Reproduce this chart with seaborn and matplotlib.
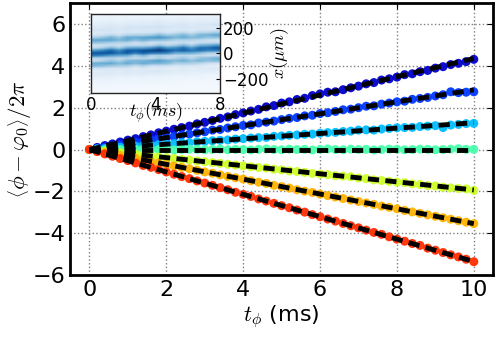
import matplotlib
matplotlib.use("Agg")
import matplotlib.pyplot as plt
import seaborn as sns
import pandas as pd
import numpy as np

# time axis (ms)
t_ms = [0.0, 0.2, 0.4, 0.6, 0.8, 1.0, 1.2, 1.4, 1.6, 1.8, 2.0, 2.2, 2.4, 2.6, 2.8,
        3.0, 3.2, 3.4, 3.6, 3.8, 4.0, 4.2, 4.4, 4.6, 4.8, 5.0, 5.2, 5.4, 5.6, 5.8,
        6.0, 6.2, 6.4, 6.6, 6.8, 7.0, 7.2, 7.4, 7.6, 7.8, 8.0, 8.2, 8.4, 8.6, 8.8,
        9.0, 9.2, 9.4, 9.6, 9.8, 10.0]

phase_navy = [0.00, 0.10, 0.19, 0.27, 0.36, 0.45, 0.52, 0.62, 0.70, 0.80, 0.88, 0.97, 1.05, 1.12, 1.23,
              1.30, 1.39, 1.49, 1.56, 1.67, 1.75, 1.84, 1.92, 2.04, 2.10, 2.22, 2.28, 2.39, 2.45, 2.58,
              2.66, 2.74, 2.76, 2.86, 2.95, 3.03, 3.14, 3.20, 3.32, 3.38, 3.46, 3.58, 3.62, 3.72, 3.78,
              3.89, 3.96, 4.06, 4.12, 4.20, 4.31]
phase_blue = [0.00, 0.06, 0.11, 0.18, 0.22, 0.29, 0.35, 0.40, 0.46, 0.51, 0.57, 0.62, 0.70, 0.74, 0.80,
              0.85, 0.93, 0.96, 1.03, 1.09, 1.15, 1.18, 1.27, 1.31, 1.36, 1.43, 1.49, 1.53, 1.61, 1.64,
              1.72, 1.76, 1.82, 1.90, 1.93, 2.00, 2.07, 2.09, 2.17, 2.22, 2.28, 2.31, 2.40, 2.44, 2.49,
              2.56, 2.62, 2.76, 2.72, 2.74, 2.76]
phase_lblue = [0.00, 0.03, 0.05, 0.08, 0.11, 0.13, 0.16, 0.19, 0.20, 0.24, 0.26, 0.28, 0.32, 0.33, 0.37,
               0.39, 0.42, 0.44, 0.46, 0.50, 0.52, 0.55, 0.57, 0.58, 0.63, 0.65, 0.68, 0.70, 0.73, 0.74,
               0.78, 0.81, 0.82, 0.86, 0.88, 0.93, 0.94, 0.93, 0.98, 1.01, 1.04, 1.05, 1.06, 1.10, 1.12,
               1.14, 1.05, 1.17, 1.20, 1.24, 1.25]
phase_aqua = [0.00, 0.01, -0.01, 0.02, 0.00, -0.02, 0.01, 0.02, -0.01, 0.00, 0.01, -0.02, 0.00, 0.02, 0.01,
              -0.01, 0.00, 0.02, -0.01, 0.01, 0.00, -0.02, 0.01, 0.03, 0.00, -0.01, 0.02, 0.00, 0.01, -0.02,
              0.01, 0.03, 0.00, -0.01, 0.02, 0.00, 0.01, -0.02, 0.00, 0.02, 0.01, -0.01, 0.00, 0.02, 0.01,
              -0.01, 0.00, 0.02, 0.04, 0.01, 0.01]
phase_yg = [0.00, -0.04, -0.08, -0.12, -0.15, -0.20, -0.23, -0.27, -0.31, -0.36, -0.39, -0.43, -0.47, -0.50, -0.55,
            -0.58, -0.62, -0.66, -0.70, -0.74, -0.78, -0.82, -0.86, -0.88, -0.94, -0.97, -1.02, -1.05, -1.09, -1.14,
            -1.17, -1.20, -1.25, -1.27, -1.30, -1.36, -1.39, -1.45, -1.48, -1.52, -1.56, -1.58, -1.64, -1.67, -1.72,
            -1.74, -1.80, -1.83, -1.86, -1.88, -1.95]
phase_orange = [0.00, -0.07, -0.14, -0.21, -0.28, -0.36, -0.42, -0.50, -0.57, -0.64, -0.71, -0.78, -0.85, -0.92, -0.99,
                -1.07, -1.13, -1.21, -1.28, -1.35, -1.41, -1.49, -1.56, -1.62, -1.71, -1.77, -1.84, -1.92, -1.99, -2.05,
                -2.13, -2.20, -2.27, -2.34, -2.41, -2.48, -2.55, -2.62, -2.70, -2.76, -2.83, -2.91, -2.98, -3.05, -3.12,
                -3.19, -3.26, -3.33, -3.40, -3.47, -3.54]
phase_red = [0.00, -0.10, -0.21, -0.32, -0.43, -0.53, -0.64, -0.76, -0.85, -0.96, -1.07, -1.18, -1.29, -1.39, -1.50,
             -1.60, -1.71, -1.82, -1.92, -2.04, -2.14, -2.24, -2.36, -2.46, -2.57, -2.68, -2.78, -2.89, -2.99, -3.11,
             -3.21, -3.32, -3.42, -3.53, -3.64, -3.74, -3.85, -3.96, -4.05, -4.17, -4.28, -4.38, -4.49, -4.58, -4.71,
             -4.81, -4.92, -5.03, -5.13, -5.24, -5.36]

series_names = ["navy", "blue", "lblue", "aqua", "yg", "orange", "red"]
series_data = [phase_navy, phase_blue, phase_lblue, phase_aqua, phase_yg, phase_orange, phase_red]
jet_levels = [0.07, 0.18, 0.31, 0.44, 0.6, 0.72, 0.86]
fit_slopes = [0.435, 0.285, 0.128, 0.0, -0.193, -0.354, -0.535]  # per ms
fit_t = [0.0, 10.0]

# inset: fringe profile (x in um, top to bottom) and drift per time column
inset_x = [300, 280, 260, 240, 220, 200, 180, 160, 140, 120, 100, 80, 60, 40, 20, 0,
           -20, -40, -60, -80, -100, -120, -140, -160, -180, -200, -220, -240, -260, -280, -300]
inset_profile = [0.04, 0.07, 0.06, 0.09, 0.12, 0.14, 0.2, 0.15, 0.18, 0.38, 0.6, 0.45, 0.2, 0.3, 0.65, 0.95,
                 0.78, 0.32, 0.27, 0.55, 0.5, 0.22, 0.12, 0.15, 0.12, 0.08, 0.06, 0.05, 0.04, 0.03, 0.02]
inset_shift = [0, 4, 9, 7, 12, 17, 14, 20, 24, 21, 27, 30, 26, 33, 37, 40]
inset_gain = [0.9, 0.95, 1.0, 0.85, 1.0, 0.9, 1.0, 0.95, 1.05, 0.9, 0.85, 0.95, 0.8, 0.9, 0.85, 0.9]

rows = []
for name, vals in zip(series_names, series_data):
    for tt, v in zip(t_ms, vals):
        rows.append({"t": tt, "phase": v, "series": name})
df = pd.DataFrame(rows)

cmap = plt.get_cmap("jet")
palette = {n: cmap(l) for n, l in zip(series_names, jet_levels)}

sns.set_style("white")
plt.rcParams["font.family"] = ["DejaVu Sans"]
plt.rcParams["mathtext.fontset"] = "cm"
for key in ["text.color", "axes.labelcolor", "xtick.color", "ytick.color"]:
    plt.rcParams[key] = "black"

fig = plt.figure(figsize=(4.98, 3.38), dpi=100)
ax = fig.add_axes([0.141, 0.186, 0.849, 0.805])

sns.scatterplot(data=df, x="t", y="phase", hue="series", palette=palette,
                s=42, linewidth=0, alpha=0.95, legend=False, ax=ax, zorder=3)
for slope in fit_slopes:
    ax.plot(fit_t, [slope * v for v in fit_t], color="black", lw=3.5,
            dashes=(2.3, 1.3), zorder=4)

ax.set_xlim(-0.5, 10.5)
ax.set_ylim(-6, 7)
ax.set_xticks([0, 2, 4, 6, 8, 10])
ax.set_yticks([-6, -4, -2, 0, 2, 4, 6])
ax.grid(True, linestyle=":", color="gray", lw=1)
ax.tick_params(direction="in", labelsize=16, length=4, top=True, right=True)
for sp in ax.spines.values():
    sp.set_linewidth(2)
    sp.set_color("black")
ax.set_xlabel(r"$t_\phi$ (ms)", fontsize=16, labelpad=2)
ax.set_ylabel(r"$\left\langle\phi-\varphi_0\right\rangle/2\pi$", fontsize=16.5, labelpad=0)

# inset image
x_arr = np.array(inset_x, dtype=float)
prof = np.array(inset_profile)
img = np.zeros((len(inset_x), len(inset_shift)))
for j, (sh, g) in enumerate(zip(inset_shift, inset_gain)):
    img[:, j] = g * np.interp(x_arr - sh, x_arr[::-1], prof[::-1])

axin = fig.add_axes([0.183, 0.725, 0.259, 0.234])
axin.imshow(img, cmap="Blues", vmin=0, vmax=1.0, aspect="auto",
            extent=[0, 8, -310, 310], interpolation="bilinear")
axin.set_xticks([0, 4, 8])
axin.set_yticks([-200, 0, 200])
axin.yaxis.tick_right()
axin.yaxis.set_label_position("right")
axin.tick_params(direction="in", labelsize=12, length=3, pad=2)
axin.set_xlabel(r"$t_\phi(ms)$", fontsize=13, labelpad=-9)
axin.set_ylabel(r"$x(\mu m)$", fontsize=13, labelpad=0)
for sp in axin.spines.values():
    sp.set_linewidth(1)

fig.savefig("out.png", dpi=100)
